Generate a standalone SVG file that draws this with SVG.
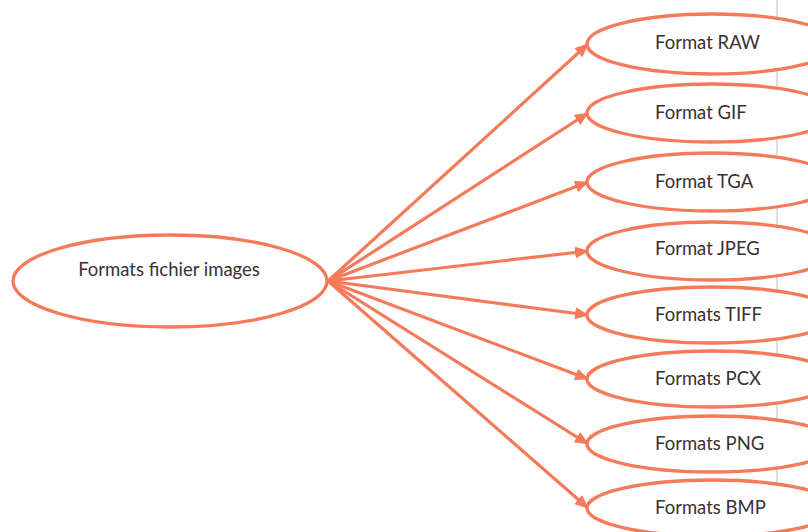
<svg xmlns="http://www.w3.org/2000/svg" width="808" height="532" viewBox="0 0 808 532">
<style>
.n{fill:#fff;stroke:#F47A5A;stroke-width:3.3}
.t{font-family:Lato,"Open Sans","Noto Sans",sans-serif;font-size:18.5px;fill:#3a3035}
.c line{stroke:#F47A5A;stroke-width:3.2;marker-end:url(#ah)}
</style>
<defs>
<marker id="ah" markerUnits="userSpaceOnUse" markerWidth="14" markerHeight="12" refX="13" refY="6" orient="auto">
<path d="M0,0 L14,6 L0,12 z" fill="#F47A5A"/>
</marker>
</defs>
<rect width="808" height="532" fill="#fff"/>
<line x1="777" y1="0" x2="777" y2="532" stroke="#bdbdbd" stroke-width="1"/>
<g id="connectors" class="c">
<line x1="328" y1="281" x2="588" y2="44"/>
<line x1="328" y1="281" x2="588" y2="113"/>
<line x1="328" y1="281" x2="588" y2="182"/>
<line x1="328" y1="281" x2="588" y2="251"/>
<line x1="328" y1="281" x2="588" y2="315"/>
<line x1="328" y1="281" x2="588" y2="379"/>
<line x1="328" y1="281" x2="588" y2="444"/>
<line x1="328" y1="281" x2="588" y2="508"/>
</g>
<g id="root"><ellipse class="n" cx="170" cy="281" rx="157" ry="46"/><text class="t" x="169" y="276" text-anchor="middle">Formats fichier images</text></g>
<g id="raw"><ellipse class="n" cx="712" cy="44" rx="125" ry="30"/><text class="t" x="655" y="49">Format RAW</text></g>
<g id="gif"><ellipse class="n" cx="712" cy="113" rx="125" ry="29"/><text class="t" x="655" y="119">Format GIF</text></g>
<g id="tga"><ellipse class="n" cx="712" cy="182" rx="125" ry="29"/><text class="t" x="655" y="188">Format TGA</text></g>
<g id="jpeg"><ellipse class="n" cx="712" cy="251" rx="125" ry="29"/><text class="t" x="655" y="255">Format JPEG</text></g>
<g id="tiff"><ellipse class="n" cx="712" cy="315" rx="125" ry="28"/><text class="t" x="655" y="321">Formats TIFF</text></g>
<g id="pcx"><ellipse class="n" cx="712" cy="379" rx="125" ry="28"/><text class="t" x="655" y="385">Formats PCX</text></g>
<g id="png"><ellipse class="n" cx="712" cy="444" rx="125" ry="28"/><text class="t" x="655" y="450">Formats PNG</text></g>
<g id="bmp"><ellipse class="n" cx="712" cy="508" rx="125" ry="28"/><text class="t" x="655" y="514">Formats BMP</text></g>
</svg>
